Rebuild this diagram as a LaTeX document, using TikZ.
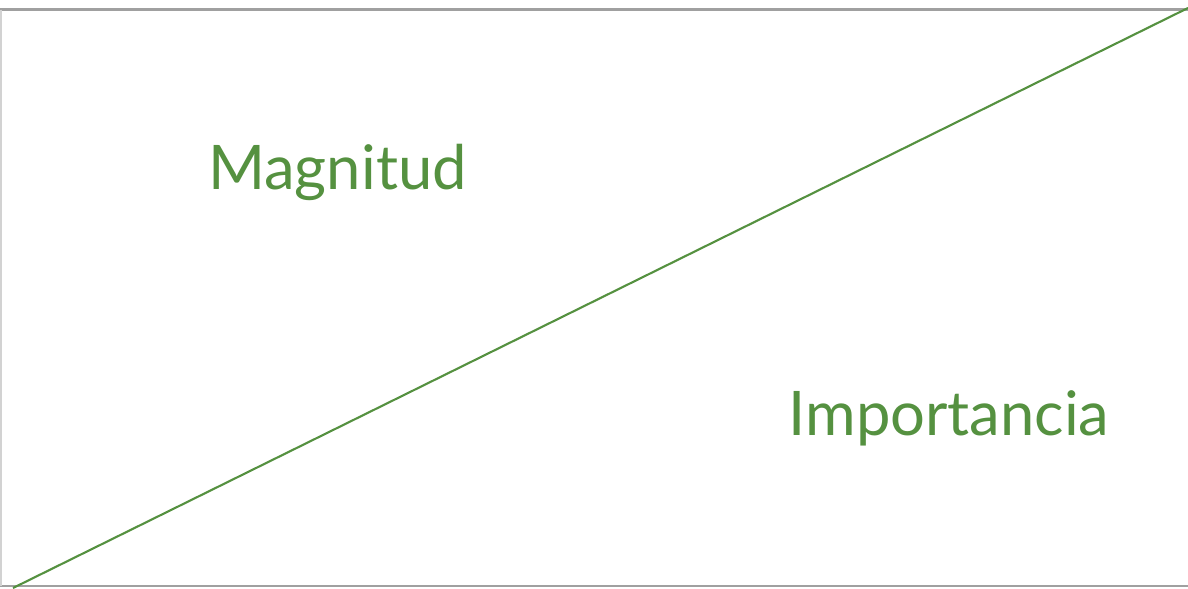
\documentclass[tikz,border=0pt]{standalone}
\usepackage{fontspec}
\setmainfont{Lato}
\definecolor{LeafGreen}{RGB}{85,145,64}
\definecolor{FrameGray}{RGB}{160,160,160}
\definecolor{SideGray}{RGB}{210,210,210}
\tikzset{
  frame/.style={draw=FrameGray,line width=0.75pt},
  side/.style={draw=SideGray,line width=0.5pt},
  divider/.style={draw=LeafGreen,line width=0.6pt},
  label/.style={text=LeafGreen,font=\fontsize{17.5}{20}\selectfont,inner sep=0pt,anchor=base}
}
\begin{document}
\begin{tikzpicture}
  \useasboundingbox (0,0) rectangle (11.88,5.88);
  \coordinate (tl) at (0,5.785);
  \coordinate (tr) at (11.88,5.785);
  \coordinate (bl) at (0,0.02);
  \coordinate (br) at (11.88,0.02);
  \coordinate (lowend) at (0.13,0);
  \coordinate (highend) at (11.88,5.80);

  \draw[frame] (tl) -- (tr);
  \draw[frame] (bl) -- (br);
  \draw[side] ([xshift=0.25pt]tl) -- ([xshift=0.25pt]bl);
  \draw[divider] (lowend) -- (highend);

  \node[label] (magnitud) at (3.375,3.99) {Magnitud};
  \node[label] (importancia) at (9.49,1.53) {Importancia};
\end{tikzpicture}
\end{document}
